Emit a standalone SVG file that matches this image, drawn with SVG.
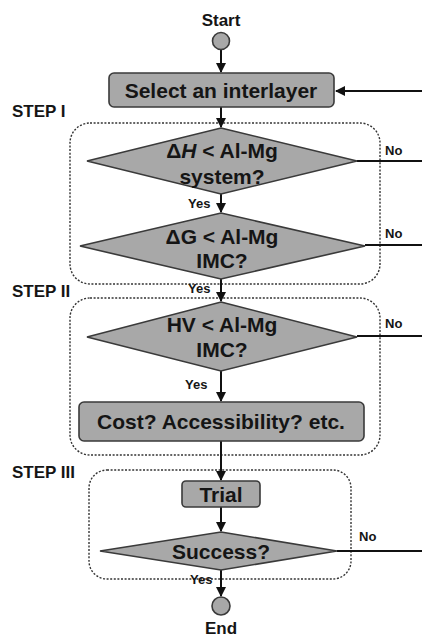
<svg xmlns="http://www.w3.org/2000/svg" width="422" height="637" viewBox="0 0 422 637">
<defs>
<style>
.t{font-family:"Liberation Sans",Arial,sans-serif;font-weight:bold;fill:#151515;}
.lbl{font-size:17px;}
.node{font-size:21px;text-anchor:middle;}
.sm{font-size:13px;}
.shape{fill:#a8a8a8;stroke:#3a3a3a;stroke-width:1.6;}
.grp{fill:none;stroke:#333;stroke-width:1.4;stroke-dasharray:2,1.6;}
.ln{fill:none;stroke:#111;stroke-width:2;}
</style>
<marker id="ah" viewBox="0 0 10 10" refX="9" refY="5" markerWidth="5" markerHeight="5" orient="auto">
<path d="M0,0 L10,5 L0,10 z" fill="#111"/>
</marker>
</defs>
<rect width="422" height="637" fill="#fff"/>

<g id="groups">
<rect class="grp" x="70" y="123" width="310" height="161" rx="20"/>
<rect class="grp" x="70" y="298" width="310" height="157" rx="20"/>
<rect class="grp" x="89" y="470" width="262" height="109" rx="18"/>
<text class="t lbl" x="12" y="117">STEP I</text>
<text class="t lbl" x="12" y="297">STEP II</text>
<text class="t lbl" x="12" y="478">STEP III</text>
</g>

<g id="connectors">
<line class="ln" x1="221" y1="50" x2="221" y2="72" marker-end="url(#ah)"/>
<line class="ln" x1="422" y1="91" x2="336" y2="91" marker-end="url(#ah)"/>
<line class="ln" x1="221" y1="107" x2="221" y2="127" marker-end="url(#ah)"/>
<line class="ln" x1="221" y1="194" x2="221" y2="212" marker-end="url(#ah)"/>
<line class="ln" x1="357" y1="161" x2="422" y2="161"/>
<line class="ln" x1="221" y1="279" x2="221" y2="301" marker-end="url(#ah)"/>
<line class="ln" x1="365" y1="245" x2="422" y2="245"/>
<line class="ln" x1="221" y1="371" x2="221" y2="401" marker-end="url(#ah)"/>
<line class="ln" x1="357" y1="336" x2="422" y2="336"/>
<line class="ln" x1="221" y1="441" x2="221" y2="480" marker-end="url(#ah)"/>
<line class="ln" x1="221" y1="507" x2="221" y2="531" marker-end="url(#ah)"/>
<line class="ln" x1="337" y1="551" x2="422" y2="551"/>
<line class="ln" x1="221" y1="570" x2="221" y2="596" marker-end="url(#ah)"/>
<text class="t sm" x="385" y="155">No</text>
<text class="t sm" x="385" y="238">No</text>
<text class="t sm" x="385" y="328">No</text>
<text class="t sm" x="359" y="541">No</text>
<text class="t sm" x="188" y="208">Yes</text>
<text class="t sm" x="188" y="293">Yes</text>
<text class="t sm" x="185" y="389">Yes</text>
<text class="t sm" x="190" y="584">Yes</text>
</g>

<g id="start">
<circle class="shape" cx="221" cy="41" r="8.5"/>
<text class="t lbl" x="221" y="26" text-anchor="middle">Start</text>
</g>

<g id="select">
<rect class="shape" x="109" y="73" width="225" height="34" rx="5"/>
<text class="t node" x="221" y="98">Select an interlayer</text>
</g>

<g id="dh">
<polygon class="shape" points="221,128 357,161 221,194 87,161"/>
<text class="t node" x="222" y="158">Δ<tspan font-style="italic">H</tspan> &lt; Al-Mg</text>
<text class="t node" x="222" y="184">system?</text>
</g>

<g id="dg">
<polygon class="shape" points="221,213 365,246 221,279 80,246"/>
<text class="t node" x="222" y="244">ΔG &lt; Al-Mg</text>
<text class="t node" x="222" y="268">IMC?</text>
</g>

<g id="hv">
<polygon class="shape" points="221,302 357,337 221,371 87,337"/>
<text class="t node" x="222" y="332">HV &lt; Al-Mg</text>
<text class="t node" x="222" y="357">IMC?</text>
</g>

<g id="cost">
<rect class="shape" x="79" y="402" width="285" height="39" rx="5"/>
<text class="t node" x="221" y="429">Cost? Accessibility? etc.</text>
</g>

<g id="trial">
<rect class="shape" x="182" y="481" width="78" height="26" rx="4"/>
<text class="t node" x="221" y="502">Trial</text>
</g>

<g id="success">
<polygon class="shape" points="221,532 337,551 221,570 100,551"/>
<text class="t node" x="221" y="559">Success?</text>
</g>

<g id="end">
<circle class="shape" cx="221" cy="606" r="9"/>
<text class="t lbl" x="221" y="634" text-anchor="middle">End</text>
</g>
</svg>
